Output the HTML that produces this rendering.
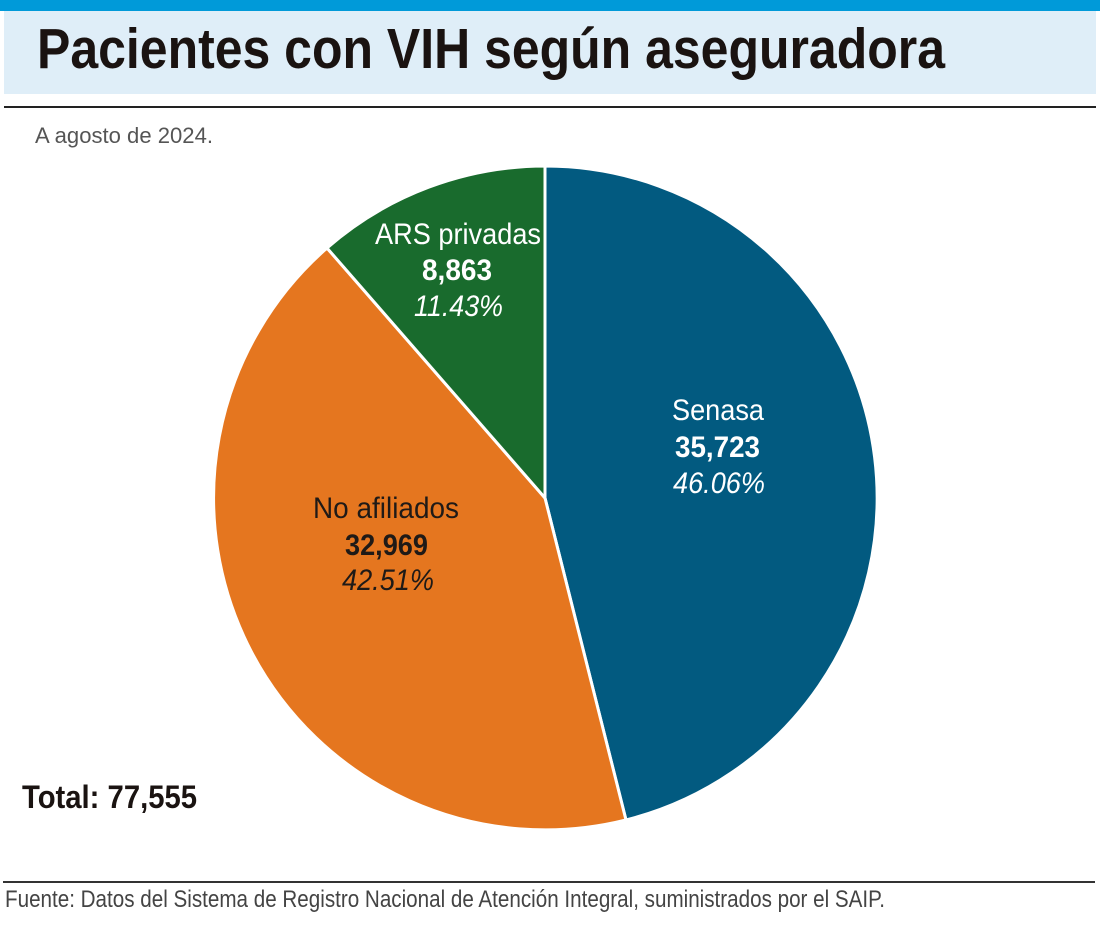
<!DOCTYPE html>
<html><head><meta charset="utf-8"><style>
html,body{margin:0;padding:0;background:#fff;}
svg{display:block;}
</style></head><body>
<svg width="1100" height="930" viewBox="0 0 1100 930" xmlns="http://www.w3.org/2000/svg" font-family="Liberation Sans Narrow, Liberation Sans, sans-serif">
<rect x="0" y="0" width="1100" height="11" fill="#009ad9"/>
<rect x="4" y="11" width="1092" height="83" fill="#dfeef8"/>
<text x="37" y="68" font-size="57" font-weight="bold" fill="#1a1311" textLength="908" lengthAdjust="spacingAndGlyphs">Pacientes con VIH según aseguradora</text>
<rect x="4" y="106" width="1092" height="2" fill="#222"/>
<text x="35" y="143" font-size="22" fill="#555" textLength="178" lengthAdjust="spacingAndGlyphs">A agosto de 2024.</text>
<g stroke="#fff" stroke-width="3" stroke-linejoin="round">
<path d="M545,498 L545,166 A332,332 0 0 1 626,820 Z" fill="#025a80"/>
<path d="M545,498 L626,820 A332,332 0 0 1 327,248 Z" fill="#e5761f"/>
<path d="M545,498 L327,248 A332,332 0 0 1 545,166 Z" fill="#196b2d"/>
</g>
<g font-size="30" text-anchor="start">
<text x="375" y="244" fill="#fff" textLength="166" lengthAdjust="spacingAndGlyphs">ARS privadas</text>
<text x="422" y="280" fill="#fff" font-weight="bold" textLength="70" lengthAdjust="spacingAndGlyphs">8,863</text>
<text x="414" y="316" fill="#fff" font-style="italic" textLength="89" lengthAdjust="spacingAndGlyphs">11.43%</text>
<text x="672" y="420" fill="#fff" textLength="92" lengthAdjust="spacingAndGlyphs">Senasa</text>
<text x="675" y="457" fill="#fff" font-weight="bold" textLength="85" lengthAdjust="spacingAndGlyphs">35,723</text>
<text x="673" y="493" fill="#fff" font-style="italic" textLength="92" lengthAdjust="spacingAndGlyphs">46.06%</text>
<text x="313" y="518" fill="#1f1a17" textLength="146" lengthAdjust="spacingAndGlyphs">No afiliados</text>
<text x="345" y="555" fill="#1f1a17" font-weight="bold" textLength="83" lengthAdjust="spacingAndGlyphs">32,969</text>
<text x="342" y="590" fill="#1f1a17" font-style="italic" textLength="92" lengthAdjust="spacingAndGlyphs">42.51%</text>
</g>
<text x="22" y="808" font-size="32" font-weight="bold" fill="#1a1311" textLength="175" lengthAdjust="spacingAndGlyphs">Total: 77,555</text>
<rect x="3" y="881" width="1092" height="2" fill="#333"/>
<text x="5" y="907" font-size="24" fill="#444" textLength="880" lengthAdjust="spacingAndGlyphs">Fuente: Datos del Sistema de Registro Nacional de Atención Integral, suministrados por el SAIP.</text>
</svg>
</body></html>
